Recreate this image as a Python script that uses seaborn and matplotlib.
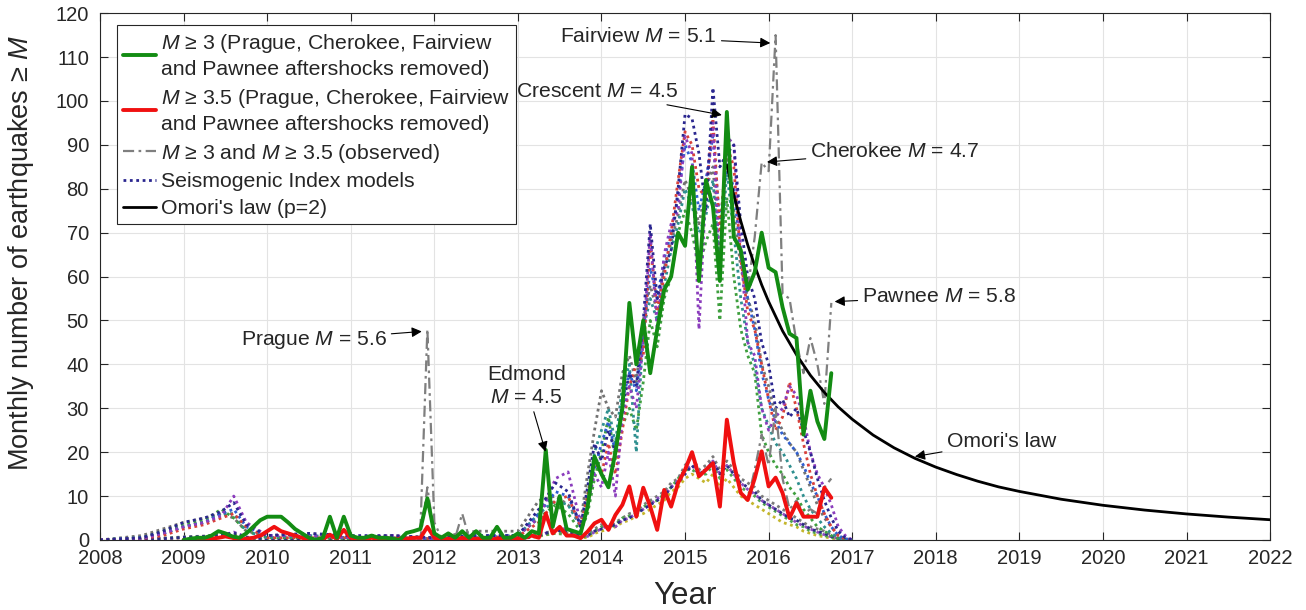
import numpy as np
import matplotlib
matplotlib.use("Agg")
import matplotlib.pyplot as plt
import seaborn as sns

# ---------------- data ----------------
# monthly series, Jan 2009 .. Oct 2016
series_start = 2009.0
green_m3 = [0, 0.3, 0.5, 0.5, 1, 2, 1.5, 0.8, 0.5, 1.5, 3, 4.5,
            5.3, 5.3, 5.3, 4, 2.5, 1.5, 0.5, 0, 0.5, 5.3, 0.5, 5.3,
            1, 0.5, 0.5, 1, 0.5, 0.5, 0.3, 0, 1.6, 2, 2.5, 9.5,
            1.5, 0.5, 1.5, 0.5, 2, 0.5, 2, 0.5, 0.5, 3, 0.5, 0.5,
            1.5, 0.5, 2, 1.5, 20.5, 3, 10, 2.5, 2, 1.5, 7.5, 19,
            15, 12, 20, 30, 54, 40, 50, 38, 48, 57, 60, 70,
            67, 85, 59, 82, 76, 59, 97.5, 69, 66, 57, 61, 70,
            62, 61, 53, 47, 46, 24, 34, 27, 23, 38]
red_m35 = [0, 0, 0, 0, 0.3, 0.5, 0.8, 0.5, 0, 0.3, 0.5, 1,
           2, 3, 2, 1.5, 1, 0.5, 0, 0, 0.2, 1.2, 0.3, 2.3,
           0.5, 0.3, 0.3, 0.5, 0.3, 0, 0, 0.3, 0.3, 0.5, 0.5, 3,
           0.5, 0, 0.3, 0, 0.5, 0, 0.3, 0, 0, 0.3, 0.3, 0,
           0.3, 0.5, 1, 0.5, 6, 1.5, 3, 1, 1, 0.4, 1.9, 3.8,
           4.6, 2.3, 5.7, 8, 12.2, 5.3, 11.9, 7.6, 2.3, 11.4, 7.6, 13,
           16, 20, 14.5, 16, 17.5, 7.6, 27.4, 17.5, 10.7, 9.1, 14, 20.2,
           12.2, 14.2, 10.7, 5, 8.4, 5.3, 5.3, 5.3, 11.9, 9.6]
obs_m3 = [0, 0.3, 0.5, 0.5, 1, 2, 1.5, 0.8, 0.5, 1.5, 3, 4.5,
          5.3, 5.3, 5.3, 4, 2.5, 1.5, 0.5, 0, 0.5, 5.3, 0.5, 5.3,
          1, 0.5, 0.5, 1, 0.5, 0.5, 0.3, 0, 1.6, 2, 2.5, 48,
          4, 0.5, 1.5, 0.5, 6, 0.5, 2, 0.5, 0.5, 3, 0.5, 0.5,
          1.5, 0.5, 2, 1.5, 20.5, 3, 10, 2.5, 2, 1.5, 7.5, 19,
          15, 12, 20, 30, 54, 40, 50, 38, 48, 57, 60, 70,
          67, 85, 59, 82, 76, 59, 97.5, 69, 66, 57, 69, 86,
          84, 115, 56, 55, 45, 38, 46, 40, 31, 54]
obs_m35 = [0, 0, 0, 0, 0.3, 0.5, 0.8, 0.5, 0, 0.3, 0.5, 1,
           2, 3, 2, 1.5, 1, 0.5, 0, 0, 0.2, 1.2, 0.3, 2.3,
           0.5, 0.3, 0.3, 0.5, 0.3, 0, 0, 0.3, 0.3, 0.5, 0.5, 12,
           1, 0, 0.3, 0, 1, 0, 0.3, 0, 0, 0.3, 0.3, 0,
           0.3, 0.5, 1, 0.5, 6, 1.5, 3, 1, 1, 0.4, 1.9, 3.8,
           4.6, 2.3, 5.7, 8, 12.2, 5.3, 11.9, 7.6, 2.3, 11.4, 7.6, 13,
           16, 20, 14.5, 16, 17.5, 7.6, 27.4, 17.5, 10.7, 9.1, 16, 24,
           17, 30, 14, 7, 9, 6, 7, 6, 12, 14]

# Seismogenic Index models: coarse early grid, then monthly Nov 2013 .. Jan 2017
model_early_t = [2008.0, 2008.5, 2008.75, 2009.0, 2009.25, 2009.45, 2009.6, 2009.75,
                 2010.0, 2010.5, 2011.0, 2011.5, 2012.0, 2012.5, 2013.0, 2013.25,
                 2013.45, 2013.6, 2013.75]
model_main_start = 2013 + 10 / 12
model_main_len = 39

si3_navy_early = [0, 0.5, 2, 4, 5, 6.5, 8.5, 3.5, 1, 1.5, 1, 1, 0.5, 1, 1, 7, 13, 11, 3]
si3_navy_main = [12, 22, 18, 25, 20, 30, 38, 35, 50, 72, 55, 62, 66, 80, 97, 96, 88, 75, 103, 85,
                 88, 90, 72, 60, 55, 45, 40, 30, 32, 28, 30, 25, 20, 14, 9, 5, 2, 0.5, 0]
si3_purple_early = [0, 0.3, 1.5, 3, 4, 5.5, 10, 4, 1, 1, 0.5, 1, 0.3, 0.5, 1, 5, 14, 15.5, 4]
si3_purple_main = [8, 15, 12, 20, 10, 28, 35, 30, 45, 70, 48, 65, 72, 75, 92, 88, 48, 80, 95, 60,
                   92, 90, 66, 45, 42, 30, 25, 28, 30, 35, 33, 28, 20, 15, 12, 8, 3, 1, 0]
si3_red_early = [0, 0.3, 1, 2.5, 3.5, 5, 6, 3, 0.5, 0.5, 0.5, 0.5, 0.3, 0.5, 0.8, 4, 9, 10, 3]
si3_red_main = [10, 18, 15, 22, 15, 25, 35, 40, 42, 68, 52, 60, 70, 82, 93, 90, 80, 78, 96, 70,
                90, 85, 64, 52, 48, 40, 32, 25, 28, 36, 30, 22, 15, 10, 6, 3, 1, 0.3, 0]
si3_green_early = [0, 0.5, 2, 3.5, 4.5, 7, 5, 2, 0.5, 0.5, 0.3, 0.5, 0.3, 0.5, 1, 5, 8, 6, 2]
si3_green_main = [6, 14, 20, 28, 18, 26, 30, 25, 36, 50, 44, 55, 60, 70, 75, 70, 62, 68, 72, 50,
                  78, 60, 48, 42, 38, 24, 20, 17, 15, 12, 10, 7, 5, 3, 2, 1, 0.3, 0, 0]
si3_teal_early = [0, 0.5, 1.5, 3, 4, 6, 6, 2, 0.5, 1, 0.5, 0.5, 0.3, 0.5, 1, 6, 9, 8, 3]
si3_teal_main = [10, 20, 25, 30, 22, 35, 40, 20, 48, 55, 50, 58, 66, 72, 80, 76, 70, 74, 82, 62,
                 84, 70, 55, 45, 40, 30, 26, 22, 20, 17, 14, 10, 7, 5, 3, 1.5, 0.5, 0, 0]
si3_gray_early = [0, 1, 2.5, 4, 5, 6, 5, 2, 1, 1.5, 0.5, 1, 0.5, 2, 2, 9, 10, 8, 4]
si3_gray_main = [15, 25, 34, 30, 28, 38, 42, 36, 50, 58, 52, 62, 68, 74, 82, 78, 72, 80, 85, 64,
                 88, 75, 62, 55, 50, 40, 35, 28, 25, 22, 20, 16, 12, 8, 5, 3, 1, 0.3, 0]
si3_blue_early = [0, 0.5, 1.5, 3, 4, 6, 7, 3, 1, 1, 0.5, 0.5, 0.3, 1, 1, 6, 11, 10, 3.5]
si3_blue_main = [9, 16, 22, 27, 20, 32, 38, 34, 46, 62, 55, 64, 70, 78, 90, 86, 75, 82, 92, 72,
                 86, 80, 65, 55, 48, 38, 32, 27, 24, 22, 20, 17, 13, 10, 6, 3, 1, 0.3, 0]

si35_navy_early = [0, 0.1, 0.3, 0.6, 0.8, 1.2, 1.6, 0.6, 0.2, 0.3, 0.2, 0.2, 0.1, 0.2, 0.2, 1, 2.2, 2, 0.8]
si35_navy_main = [1, 2, 2.5, 3, 3.5, 4.5, 5, 6, 7, 8, 9, 10, 12, 13, 15, 17, 15, 16, 18, 15,
                  17, 15, 13, 12, 11, 9, 8, 7, 6, 5, 4.5, 3.5, 2.5, 2, 1.5, 0.8, 0.4, 0.2, 0]
si35_olive_early = [0, 0.1, 0.2, 0.5, 0.7, 1, 1.2, 0.5, 0.1, 0.2, 0.1, 0.1, 0.1, 0.1, 0.2, 0.8, 1.6, 1.5, 0.6]
si35_olive_main = [0.5, 1.5, 2, 2.5, 3, 4, 4.5, 5.5, 6, 7, 8, 9, 11, 12, 14, 15, 14, 13, 15, 12,
                   14, 12, 10, 9, 8, 7, 6, 5, 4, 3.5, 3, 2, 1.5, 1, 0.7, 0.4, 0.2, 0, 0]
si35_gray_early = [0, 0.2, 0.4, 0.7, 0.9, 1.1, 1, 0.4, 0.2, 0.3, 0.1, 0.2, 0.1, 0.4, 0.4, 1.6, 1.9, 1.6, 1]
si35_gray_main = [1.5, 2.5, 3.5, 3, 4, 5, 6, 6.5, 8, 9, 10, 11, 13, 14, 17, 19, 16, 17, 19, 16,
                  18, 16, 14, 13, 12, 10, 9, 8, 7, 6, 5, 4, 3, 2.5, 2, 1.2, 0.6, 0.2, 0]
si35_green_early = [0, 0.1, 0.4, 0.6, 0.8, 1.3, 1, 0.4, 0.1, 0.1, 0.1, 0.1, 0.1, 0.1, 0.2, 1, 1.5, 1.2, 0.5]
si35_green_main = [1, 2, 3, 2.5, 3.5, 5, 5.5, 6, 7.5, 8.5, 9, 10.5, 12, 14, 16, 16, 15, 15, 17, 14,
                   16, 14, 12, 11, 10, 8.5, 7.5, 6.5, 5.5, 4.5, 3.5, 3, 2, 1.5, 1, 0.6, 0.3, 0.1, 0]
si35_purple_early = [0, 0.1, 0.3, 0.5, 0.7, 1, 1.8, 0.7, 0.2, 0.2, 0.1, 0.2, 0.1, 0.1, 0.2, 0.9, 2.5, 2.6, 0.8]
si35_purple_main = [0.8, 1.8, 2.5, 3.5, 3, 4.5, 5, 6, 7, 8, 9.5, 10, 12, 13.5, 16, 17, 15.5, 16, 18, 15,
                    17, 15, 13, 11.5, 10.5, 9, 8, 7, 6, 5, 4, 3.2, 2.5, 1.8, 1.2, 0.7, 0.3, 0.1, 0]

# Omori's law (p=2) curve values
omori_t = [2015.5, 2015.583, 2015.667, 2015.75, 2015.833, 2015.917, 2016.0, 2016.167,
           2016.333, 2016.5, 2016.667, 2016.833, 2017.0, 2017.25, 2017.5, 2017.75,
           2018.0, 2018.25, 2018.5, 2018.75, 2019.0, 2019.5, 2020.0, 2020.5,
           2021.0, 2021.5, 2022.0]
omori_v = [85.4, 78.6, 72.6, 67.2, 62.5, 58.1, 54.3, 47.6, 42.2, 37.5, 33.6, 30.3,
           27.5, 23.9, 21.0, 18.6, 16.6, 14.9, 13.4, 12.1, 11.06, 9.28, 7.90, 6.81,
           5.93, 5.21, 4.61]

# ---------------- style ----------------
sns.set_theme(style="whitegrid")
plt.rcParams['font.family'] = ['Liberation Sans', 'DejaVu Sans']
plt.rcParams['mathtext.fontset'] = 'custom'
plt.rcParams['mathtext.rm'] = 'Liberation Sans'
plt.rcParams['mathtext.it'] = 'Liberation Sans:italic'
plt.rcParams['mathtext.bf'] = 'Liberation Sans:bold'

fig = plt.figure(figsize=(13.06, 6.10), dpi=100)
ax = fig.add_axes([0.0766, 0.1148, 0.8959, 0.8636])
ax.set_facecolor('white')

month_t = series_start + np.arange(len(green_m3)) / 12
model_t = np.concatenate([model_early_t, model_main_start + np.arange(model_main_len) / 12])

dot = (0, (1.0, 1.3))
models35 = [(si35_olive_early, si35_olive_main, '#c4b62c'),
            (si35_gray_early, si35_gray_main, '#7a7a7a'),
            (si35_green_early, si35_green_main, '#4fa54f'),
            (si35_purple_early, si35_purple_main, '#8e4ec0'),
            (si35_navy_early, si35_navy_main, '#2b2b86')]
for e, m, c in models35:
    sns.lineplot(x=model_t, y=np.array(e + m), ax=ax, color=c, lw=2.0,
                 linestyle=dot, estimator=None, zorder=2, legend=False)

models3 = [(si3_gray_early, si3_gray_main, '#727272'),
           (si3_green_early, si3_green_main, '#3f9f3f'),
           (si3_teal_early, si3_teal_main, '#2f8f8f'),
           (si3_blue_early, si3_blue_main, '#2f5fd0'),
           (si3_red_early, si3_red_main, '#d8403a'),
           (si3_purple_early, si3_purple_main, '#8b3dbd'),
           (si3_navy_early, si3_navy_main, '#2a268f')]
for e, m, c in models3:
    sns.lineplot(x=model_t, y=np.array(e + m), ax=ax, color=c, lw=2.0,
                 linestyle=dot, estimator=None, zorder=2,
                 label="Seismogenic Index models" if c == '#2a268f' else None)

dashdot = (0, (5, 2, 1.2, 2))
sns.lineplot(x=month_t, y=obs_m35, ax=ax, color='#7f7f7f', lw=1.6, linestyle=dashdot,
             estimator=None, zorder=3)
sns.lineplot(x=month_t, y=obs_m3, ax=ax, color='#7f7f7f', lw=1.6, linestyle=dashdot,
             estimator=None, zorder=3, label="$M$ ≥ 3 and $M$ ≥ 3.5 (observed)")

sns.lineplot(x=omori_t, y=omori_v, ax=ax, color='black', lw=2.0, estimator=None,
             zorder=4, label="Omori's law (p=2)")
sns.lineplot(x=month_t, y=red_m35, ax=ax, color='#f01010', lw=2.8, estimator=None, zorder=5,
             label="$M$ ≥ 3.5 (Prague, Cherokee, Fairview\nand Pawnee aftershocks removed)")
sns.lineplot(x=month_t, y=green_m3, ax=ax, color='#138c13', lw=2.8, estimator=None, zorder=6,
             label="$M$ ≥ 3 (Prague, Cherokee, Fairview\nand Pawnee aftershocks removed)")

# ---------------- axes ----------------
ax.set_xlim(2008, 2022)
ax.set_ylim(0, 120)
ax.set_xticks(np.arange(2008, 2023, 1))
ax.set_yticks(np.arange(0, 121, 10))
ax.grid(True, color='#e3e3e3', lw=0.8)
for s in ax.spines.values():
    s.set_visible(True)
    s.set_color('#262626')
    s.set_linewidth(0.8)
ax.tick_params(axis='both', direction='in', length=6, width=0.8, colors='#262626',
               labelsize=14.5, top=True, right=True, bottom=True, left=True,
               labelcolor='#262626')
ax.tick_params(axis='x', pad=6.5)
ax.tick_params(axis='y', pad=8)
ax.set_xlabel("Year", fontsize=22.5, color='#262626')
ax.set_ylabel("Monthly number of earthquakes ≥ $M$", fontsize=19.5, color='#262626')
ax.xaxis.set_label_coords(0.5, -0.077)
ax.yaxis.set_label_coords(-0.055, 0.545)

# ---------------- legend ----------------
handles, labels = ax.get_legend_handles_labels()
order = ["$M$ ≥ 3 (Prague, Cherokee, Fairview\nand Pawnee aftershocks removed)",
         "$M$ ≥ 3.5 (Prague, Cherokee, Fairview\nand Pawnee aftershocks removed)",
         "$M$ ≥ 3 and $M$ ≥ 3.5 (observed)",
         "Seismogenic Index models",
         "Omori's law (p=2)"]
hmap = dict(zip(labels, handles))
leg = ax.legend([hmap[l] for l in order], order, loc='upper left',
                bbox_to_anchor=(0.0145, 0.977), borderaxespad=0, fontsize=15.3,
                frameon=True, fancybox=False, edgecolor='#262626', framealpha=1,
                handlelength=1.55, handletextpad=0.2, labelspacing=0.36, borderpad=0.3)
leg.get_frame().set_linewidth(0.8)
for t in leg.get_texts():
    t.set_linespacing(1.36)
leg.set_zorder(10)

# ---------------- annotations ----------------
arrow = dict(arrowstyle='-|>', color='black', lw=0.8, mutation_scale=15, shrinkA=1, shrinkB=0)
fs = 15.2
ax.annotate("Fairview $M$ = 5.1", xy=(2016.02, 113.2), xytext=(2015.38, 114.6),
            ha='right', va='center', fontsize=fs, arrowprops=arrow, zorder=9)
ax.annotate("Crescent $M$ = 4.5", xy=(2015.44, 96.8), xytext=(2014.92, 102.1),
            ha='right', va='center', fontsize=fs, arrowprops=arrow, zorder=9)
ax.annotate("Cherokee $M$ = 4.7", xy=(2015.98, 86.1), xytext=(2016.50, 88.5),
            ha='left', va='center', fontsize=fs, arrowprops=arrow, zorder=9)
ax.annotate("Pawnee $M$ = 5.8", xy=(2016.79, 54.3), xytext=(2017.12, 55.4),
            ha='left', va='center', fontsize=fs, arrowprops=arrow, zorder=9)
ax.annotate("Omori's law", xy=(2017.75, 19.0), xytext=(2018.13, 22.4),
            ha='left', va='center', fontsize=fs, arrowprops=arrow, zorder=9)
ax.annotate("Prague $M$ = 5.6", xy=(2011.85, 47.5), xytext=(2011.43, 45.6),
            ha='right', va='center', fontsize=fs, arrowprops=arrow, zorder=9)
ax.annotate("Edmond\n$M$ = 4.5", xy=(2013.33, 20.1), xytext=(2013.10, 35.1),
            ha='center', va='center', fontsize=fs, linespacing=1.3,
            arrowprops=arrow, zorder=9)

fig.savefig("out.png", dpi=100)
